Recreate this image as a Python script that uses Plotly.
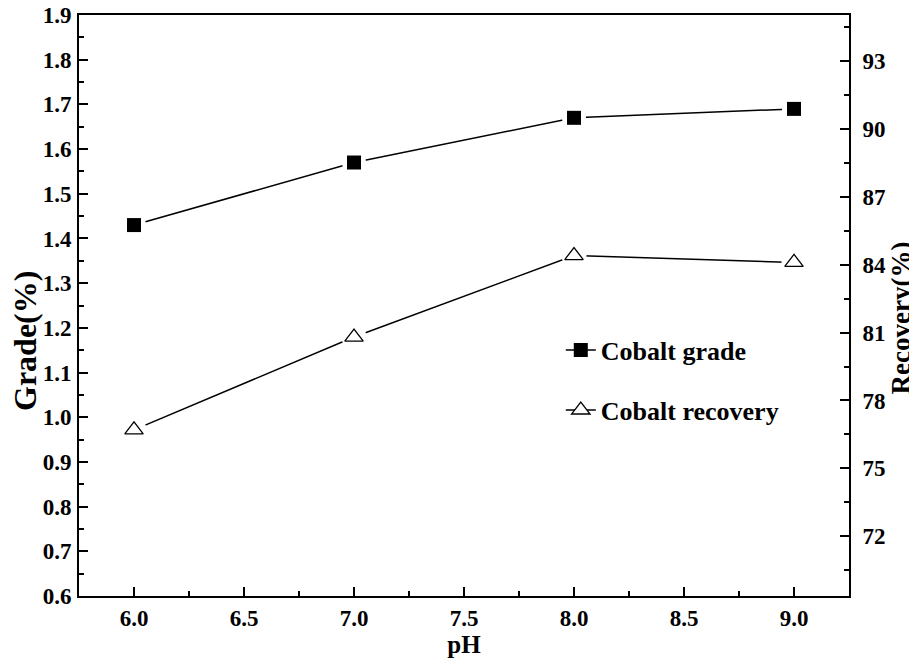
import plotly.graph_objects as go

ph = [6.0, 7.0, 8.0, 9.0]
grade = [1.43, 1.57, 1.67, 1.69]
recovery = [76.7, 80.8, 84.4, 84.1]

FONT = "Liberation Serif"
BLACK = "#000000"

fig = go.Figure()

# Cobalt grade (left axis)
fig.add_trace(go.Scatter(x=ph, y=grade, mode="lines+markers", name="Cobalt grade",
                         line=dict(color=BLACK, width=1.5),
                         marker=dict(symbol="square", size=14, color=BLACK),
                         legend="legend", yaxis="y"))
fig.add_trace(go.Scatter(x=ph, y=grade, mode="markers", showlegend=False, hoverinfo="skip",
                         marker=dict(symbol="circle", size=24, color="white"), yaxis="y"))
fig.add_trace(go.Scatter(x=ph, y=grade, mode="markers", showlegend=False,
                         marker=dict(symbol="square", size=14, color=BLACK), yaxis="y"))

# Cobalt recovery (right axis)
fig.add_trace(go.Scatter(x=ph, y=recovery, mode="lines+markers", name="Cobalt recovery",
                         line=dict(color=BLACK, width=1.5),
                         marker=dict(symbol="triangle-up", size=16, color="white",
                                     line=dict(color=BLACK, width=1.3)),
                         legend="legend2", yaxis="y2"))
fig.add_trace(go.Scatter(x=ph, y=recovery, mode="markers", showlegend=False, hoverinfo="skip",
                         marker=dict(symbol="circle", size=25, color="white"), yaxis="y2"))
fig.add_trace(go.Scatter(x=ph, y=recovery, mode="markers", showlegend=False,
                         marker=dict(symbol="triangle-up", size=16, color="white",
                                     line=dict(color=BLACK, width=1.3)), yaxis="y2"))

tickfont = dict(family=FONT, size=23, color=BLACK, weight="bold")

fig.update_layout(
    width=909, height=650,
    margin=dict(l=71, r=68, t=7, b=62),
    paper_bgcolor="white", plot_bgcolor="white",
    font=dict(family=FONT, color=BLACK),
    xaxis=dict(range=[5.75, 9.25], dtick=0.5, tick0=6.0, tickformat=".1f",
               automargin=False,
               showline=True, linecolor=BLACK, linewidth=2, mirror=True,
               ticks="inside", ticklen=9, tickwidth=2, tickcolor=BLACK,
               minor=dict(dtick=0.25, ticks="inside", ticklen=5, tickwidth=2, tickcolor=BLACK),
               showgrid=False, zeroline=False, tickfont=tickfont, ticklabelstandoff=0,
               title=dict(text="pH", font=dict(family=FONT, size=25, color=BLACK, weight="bold"),
                          standoff=8)),
    yaxis=dict(range=[0.5999, 1.9001], dtick=0.1, tick0=0.6, tickformat=".1f",
               automargin=False, ticklabeloverflow="allow",
               showline=True, linecolor=BLACK, linewidth=2,
               ticks="inside", ticklen=9, tickwidth=2, tickcolor=BLACK,
               minor=dict(dtick=0.05, ticks="inside", ticklen=5, tickwidth=2, tickcolor=BLACK),
               showgrid=False, zeroline=False, tickfont=tickfont, ticklabelstandoff=1),
    yaxis2=dict(range=[69.36, 95.03], dtick=3, tick0=72, overlaying="y", side="right",
                automargin=False,
                showline=True, linecolor=BLACK, linewidth=2,
                ticks="inside", ticklen=9, tickwidth=2, tickcolor=BLACK,
                minor=dict(dtick=1.5, ticks="inside", ticklen=5, tickwidth=2, tickcolor=BLACK),
                showgrid=False, zeroline=False, tickfont=tickfont, ticklabelstandoff=7),
    legend=dict(x=0.6257, y=0.4234, xanchor="left", yanchor="middle",
                bgcolor="rgba(0,0,0,0)", borderwidth=0,
                font=dict(family=FONT, size=26, color=BLACK, weight="bold")),
    legend2=dict(x=0.6257, y=0.32, xanchor="left", yanchor="middle",
                 bgcolor="rgba(0,0,0,0)", borderwidth=0,
                 font=dict(family=FONT, size=26, color=BLACK, weight="bold")),
    annotations=[
        dict(text="Grade(%)", textangle=-90, xref="paper", yref="paper",
             x=0, y=0.4389, xanchor="center", yanchor="middle", xshift=-54,
             showarrow=False,
             font=dict(family=FONT, size=32, color=BLACK, weight="bold")),
        dict(text="Recovery(%)", textangle=-90, xref="paper", yref="paper",
             x=1, y=0.4776, xanchor="center", yanchor="middle", xshift=52,
             showarrow=False,
             font=dict(family=FONT, size=27, color=BLACK, weight="bold")),
    ],
)

fig.write_html("out.html")
